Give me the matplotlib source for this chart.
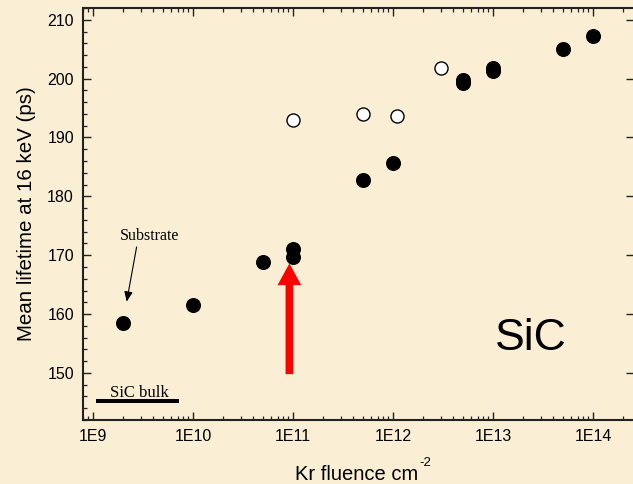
import matplotlib
matplotlib.use("Agg")
import matplotlib.pyplot as plt
from matplotlib.patches import FancyArrowPatch
from matplotlib.ticker import LogLocator, FixedLocator, MultipleLocator, NullFormatter

# Mean positron lifetime vs Kr fluence
fluence_filled = [2e9, 1e10, 5e10, 1e11, 1e11, 5e11, 1e12, 5e12, 5e12, 1e13, 1e13, 5e13, 1e14]
lifetime_filled = [158.5, 161.5, 168.9, 171.1, 169.7, 182.7, 185.6, 199.3, 199.8, 201.3, 201.8, 205.0, 207.3]

fluence_open = [1e11, 5e11, 1.1e12, 3e12]
lifetime_open = [192.9, 194.0, 193.6, 201.8]

bulk_range = [1.07e9, 7.2e9]
bulk_lifetime = 145.2

decades = [1e9, 1e10, 1e11, 1e12, 1e13, 1e14]
decade_labels = ["1E9", "1E10", "1E11", "1E12", "1E13", "1E14"]
y_ticks = [150, 160, 170, 180, 190, 200, 210]

W, H = 633, 484
bg = "#FAEED4"
fig = plt.figure(figsize=(W / 100, H / 100), dpi=100, facecolor=bg)
ax = fig.add_axes([83 / W, 1 - 420 / H, 551 / W, 412 / H], facecolor=bg)

ax.set_xscale("log")
ax.set_xlim(10 ** 8.9, 10 ** 14.41)
ax.set_ylim(142, 212)

ax.plot(fluence_filled, lifetime_filled, "o", ms=9.8, mfc="black", mec="black", zorder=4)
ax.plot(fluence_open, lifetime_open, "o", ms=9.4, mfc="white", mec="black", mew=1.0, zorder=4)

# bulk reference
ax.plot(bulk_range, [bulk_lifetime, bulk_lifetime], color="black", lw=2.9, solid_capstyle="butt")
ax.text(2.9e9, 146.6, "SiC bulk", family="Liberation Serif", fontsize=12,
        ha="center", va="center")

# substrate annotation
ax.text(3.7e9, 173.3, "Substrate", family="Liberation Serif", fontsize=11.5,
        ha="center", va="center")
ax.add_patch(FancyArrowPatch((2.73e9, 171.4), (2.17e9, 162.1),
                             arrowstyle="-|>,head_length=6,head_width=2.5",
                             mutation_scale=1, color="black", lw=0.8,
                             shrinkA=0, shrinkB=0, zorder=3))

# highlight arrow
ax.add_patch(FancyArrowPatch((9.2e10, 149.8), (9.2e10, 168.6),
                             arrowstyle="simple,head_length=15.6,head_width=17,tail_width=5.5",
                             mutation_scale=1, color="#FF0000", lw=0,
                             shrinkA=0, shrinkB=0, zorder=3))

ax.text(2.4e13, 155.9, "SiC", fontsize=32, family="Liberation Sans",
        ha="center", va="center")

ax.xaxis.set_major_locator(FixedLocator(decades))
ax.set_xticklabels(decade_labels)
ax.xaxis.set_minor_locator(LogLocator(base=10, subs=range(2, 10), numticks=20))
ax.xaxis.set_minor_formatter(NullFormatter())
ax.yaxis.set_major_locator(FixedLocator(y_ticks))
ax.yaxis.set_minor_locator(MultipleLocator(2))

ax.tick_params(which="both", direction="in", top=True, right=True, color="#222222")
ax.tick_params(which="major", length=6, width=1.0, labelsize=11.5, pad=6.5)
ax.tick_params(which="minor", length=3, width=0.9)
ax.tick_params(axis="y", which="minor", right=False)
for lab in ax.get_xticklabels() + ax.get_yticklabels():
    lab.set_family("Liberation Sans")

for s in ax.spines.values():
    s.set_linewidth(1.5)
    s.set_color("#222222")
ax.spines["right"].set_visible(False)

ax.set_ylabel("Mean lifetime at 16 keV (ps)", fontsize=14.8, family="Liberation Sans", labelpad=8)

# x axis title with a plain-hyphen superscript
fig.text(418 / W, 1 - 480 / H, "Kr fluence cm", fontsize=14.5, family="Liberation Sans",
         ha="right", va="baseline")
fig.text(419 / W, 1 - 466 / H, "-2", fontsize=9.5, family="Liberation Sans",
         ha="left", va="baseline")

fig.savefig("out.png", dpi=100, facecolor=bg)
